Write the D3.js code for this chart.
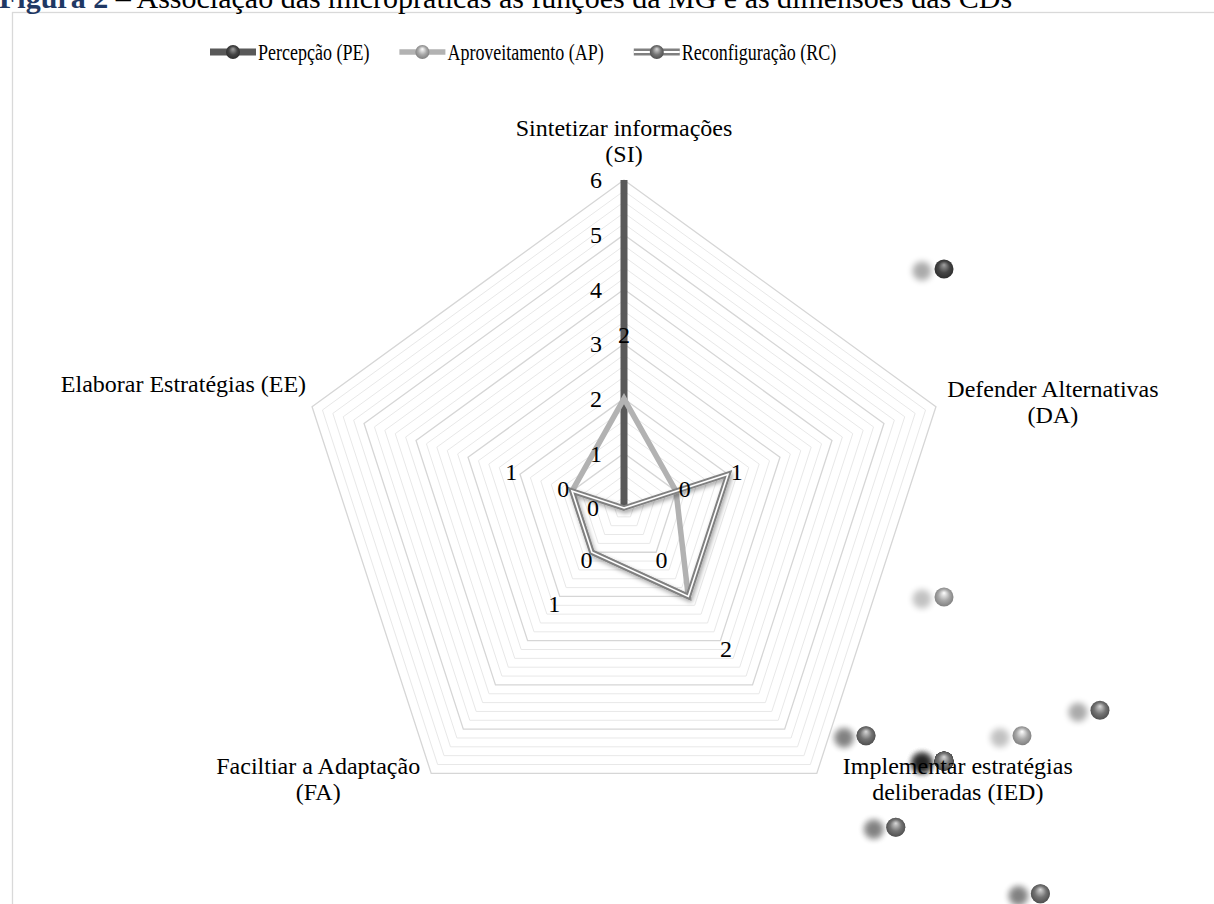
<!DOCTYPE html>
<html><head><meta charset="utf-8">
<script src="https://cdn.jsdelivr.net/npm/d3@7"></script>
<style>
html,body{margin:0;padding:0;background:#fff;}
svg{display:block;font-family:"Liberation Serif","Times New Roman",serif;}
</style></head><body>
<svg id="chart" width="1214" height="904"></svg>
<script>
// ---------- data ----------
const categories = [
  ["Sintetizar informações", "(SI)"],
  ["Defender Alternativas", "(DA)"],
  ["Implementar estratégias", "deliberadas (IED)"],
  ["Faciltiar a Adaptação", "(FA)"],
  ["Elaborar Estratégias (EE)"]
];
const seriesNames = ["Percepção (PE)", "Aproveitamento (AP)", "Reconfiguração (RC)"];
const pe = [6, 0, 0, 0, 0];
const ap = [2, 1, 2, 1, 1];
const rc = [0, 2, 2, 1, 1];
const tickLabels = [1, 2, 3, 4, 5, 6];
const peLabelShown = [false, true, true, true, true];
const apLabelShown = [true, true, true, true, true];
const rcLabelShown = [true, false, false, false, false];
const titleBold = "Figura 2";
const titleRest = " – Associação das micropráticas às funções da MG e às dimensões das CDs";

// ---------- layout / style ----------
const W = 1214, H = 904;
const cx = 624, cy = 508, R = 328;
const FONT = 24, LEG_FONT = 24, LEG_SX = 0.75, TITLE_FONT = 30;
const styles = [
  {name: seriesNames[0], values: pe, line: "#595959", width: 7, double: false,
   sBase: "#454545", sHi: "#a0a0a0", sEdge: "#2a2a2a", shadow: 0.33, labels: peLabelShown},
  {name: seriesNames[1], values: ap, line: "#b2b2b2", width: 5.5, double: false,
   sBase: "#a8a8a8", sHi: "#ffffff", sEdge: "#7a7a7a", shadow: 0.24, labels: apLabelShown},
  {name: seriesNames[2], values: rc, line: "#808080", width: 5.5, double: true,
   sBase: "#747474", sHi: "#d8d8d8", sEdge: "#4a4a4a", shadow: 0.33, labels: rcLabelShown}
];

const svg = d3.select("#chart");
const defs = svg.append("defs");
defs.append("filter").attr("id", "blur").attr("x", "-50%").attr("y", "-50%").attr("width", "200%").attr("height", "200%")
  .append("feGaussianBlur").attr("stdDeviation", 3.2);
const ds = defs.append("filter").attr("id", "lineShadow").attr("x", "-20%").attr("y", "-20%").attr("width", "140%").attr("height", "140%");
ds.append("feDropShadow").attr("dx", 1.5).attr("dy", 2.5).attr("stdDeviation", 2.2)
  .attr("flood-color", "#000").attr("flood-opacity", 0.35);
styles.forEach((s, i) => {
  const g = defs.append("radialGradient").attr("id", "sph" + i)
    .attr("cx", "50%").attr("cy", "50%").attr("r", "55%").attr("fx", "50%").attr("fy", "28%");
  g.append("stop").attr("offset", "0%").attr("stop-color", s.sHi);
  g.append("stop").attr("offset", "55%").attr("stop-color", s.sBase);
  g.append("stop").attr("offset", "100%").attr("stop-color", s.sEdge);
});

// background + chart border
svg.append("rect").attr("width", W).attr("height", H).attr("fill", "#fff");
svg.append("rect").attr("x", 12.5).attr("y", 12.5).attr("width", W + 20).attr("height", H + 20)
  .attr("fill", "none").attr("stroke", "#d9d9d9").attr("stroke-width", 1.3);

// title (cut at top of the picture, as in the reference)
const title = svg.append("text").attr("x", -1).attr("y", 8).attr("font-size", TITLE_FONT);
title.append("tspan").attr("font-weight", "bold").attr("fill", "#1f3864").text(titleBold);
title.append("tspan").attr("fill", "#000").text(titleRest);

// scales
const n = categories.length;
const r = d3.scaleLinear().domain([0, 6]).range([0, R]);
const ang = d3.scaleLinear().domain([0, n]).range([-Math.PI / 2, 3 * Math.PI / 2]);
const pt = (i, v, sc = r, ox = cx, oy = cy) => [ox + sc(v) * Math.cos(ang(i)), oy + sc(v) * Math.sin(ang(i))];
const radial = d3.lineRadial().angle((d, i) => ang(i) + Math.PI / 2).radius(d => r(d)).curve(d3.curveLinearClosed);

// grid
const gridVals = d3.range(1, 31).map(k => k / 5);
const gGrid = svg.append("g").attr("transform", `translate(${cx},${cy})`);
gGrid.selectAll("path.minor").data(gridVals.filter(v => Math.abs(v - Math.round(v)) > 1e-6))
  .join("path").attr("d", v => radial(d3.range(n).map(() => v)))
  .attr("fill", "none").attr("stroke", "#e8e8e8").attr("stroke-width", 1);
gGrid.selectAll("path.major").data(gridVals.filter(v => Math.abs(v - Math.round(v)) < 1e-6))
  .join("path").attr("d", v => radial(d3.range(n).map(() => v)))
  .attr("fill", "none").attr("stroke", "#d6d6d6").attr("stroke-width", 1.3);

// stray markers (drawn on an enlarged, shifted copy of the radar)
const mScale = d3.scaleLinear().domain([0, 6]).range([0, R * 1.5]);
const mox = cx + 320, moy = cy + 253;
const gM = svg.append("g");
styles.forEach((s, si) => {
  s.values.forEach((v, i) => {
    const [x, y] = pt(i, v, mScale, mox, moy);
    gM.append("circle").attr("cx", x - 22).attr("cy", y + 2).attr("r", 9.5)
      .attr("fill", "#000").attr("opacity", s.shadow).attr("filter", "url(#blur)");
    gM.append("circle").attr("cx", x).attr("cy", y).attr("r", 9.5).attr("fill", `url(#sph${si})`);
  });
});

// series lines
const gS = svg.append("g").attr("transform", `translate(${cx},${cy})`);
styles.forEach((s, si) => {
  const d = radial(s.values);
  if (s.double) {
    const g = gS.append("g").attr("filter", "url(#lineShadow)");
    g.append("path").attr("d", d).attr("fill", "none").attr("stroke", s.line)
      .attr("stroke-width", s.width).attr("stroke-linejoin", "miter");
    g.append("path").attr("d", d).attr("fill", "none").attr("stroke", "#fff")
      .attr("stroke-width", 1.6).attr("stroke-linejoin", "miter");
  } else {
    gS.append("path").attr("d", d).attr("fill", "none").attr("stroke", s.line)
      .attr("stroke-width", s.width).attr("stroke-linejoin", "miter").attr("stroke-miterlimit", 4);
  }
});

// value-axis tick labels
svg.append("g").selectAll("text").data(tickLabels).join("text")
  .attr("x", cx - 22).attr("y", d => cy - r(d)).attr("dy", "0.35em")
  .attr("text-anchor", "end").attr("font-size", FONT).attr("fill", "#000").text(d => d);

// data labels
const LBL_OFF = 64;
const gL = svg.append("g");
styles.forEach((s, si) => {
  s.values.forEach((v, i) => {
    if (!s.labels[i]) return;
    let x, y;
    if (v === 0 && si === 2) { x = cx - 31; y = cy; }
    else {
      const rr = r(v) + LBL_OFF;
      x = cx + rr * Math.cos(ang(i)); y = cy + rr * Math.sin(ang(i));
    }
    gL.append("text").attr("x", x).attr("y", y).attr("dy", "0.35em").attr("text-anchor", "middle")
      .attr("font-size", FONT).attr("fill", "#000").text(v);
  });
});

// category labels
const catPos = [
  {dx: 0, dy: -44, anchor: "middle"},
  {dx: 117, dy: -10, anchor: "middle"},
  {dx: 141, dy: 1, anchor: "middle"},
  {dx: -113, dy: 1, anchor: "middle"},
  {dx: -6, dy: -15, anchor: "end"}
];
const gC = svg.append("g");
categories.forEach((lines, i) => {
  const [vx, vy] = pt(i, 6);
  const t = gC.append("text").attr("x", vx + catPos[i].dx).attr("y", vy + catPos[i].dy)
    .attr("text-anchor", catPos[i].anchor).attr("font-size", FONT).attr("fill", "#000");
  lines.forEach((ln, k) => t.append("tspan").attr("x", vx + catPos[i].dx).attr("dy", k === 0 ? 0 : 26).text(ln));
});

// legend (text horizontally condensed, as in the reference)
const legY = 52, sampleW = 46, gapTxt = 2, gapItem = 30;
const gLeg = svg.append("g");
const items = styles.map((s, si) => {
  const g = gLeg.append("g");
  if (s.double) {
    g.append("line").attr("x1", 0).attr("x2", sampleW).attr("y1", 0).attr("y2", 0).attr("stroke", s.line).attr("stroke-width", 7);
    g.append("line").attr("x1", 0).attr("x2", sampleW).attr("y1", 0).attr("y2", 0).attr("stroke", "#fff").attr("stroke-width", 2.2);
  } else {
    g.append("line").attr("x1", 0).attr("x2", sampleW).attr("y1", 0).attr("y2", 0).attr("stroke", s.line).attr("stroke-width", s.width);
  }
  g.append("circle").attr("cx", sampleW / 2).attr("cy", 0).attr("r", 7).attr("fill", `url(#sph${si})`);
  const t = g.append("text").attr("transform", `translate(${sampleW + gapTxt},0) scale(${LEG_SX},1)`)
    .attr("dy", "0.35em").attr("font-size", LEG_FONT).attr("fill", "#000").text(s.name);
  return {g, w: sampleW + gapTxt + t.node().getComputedTextLength() * LEG_SX};
});
let x0 = 210;
items.forEach(it => { it.g.attr("transform", `translate(${x0},${legY})`); x0 += it.w + gapItem; });
</script>
</body></html>
